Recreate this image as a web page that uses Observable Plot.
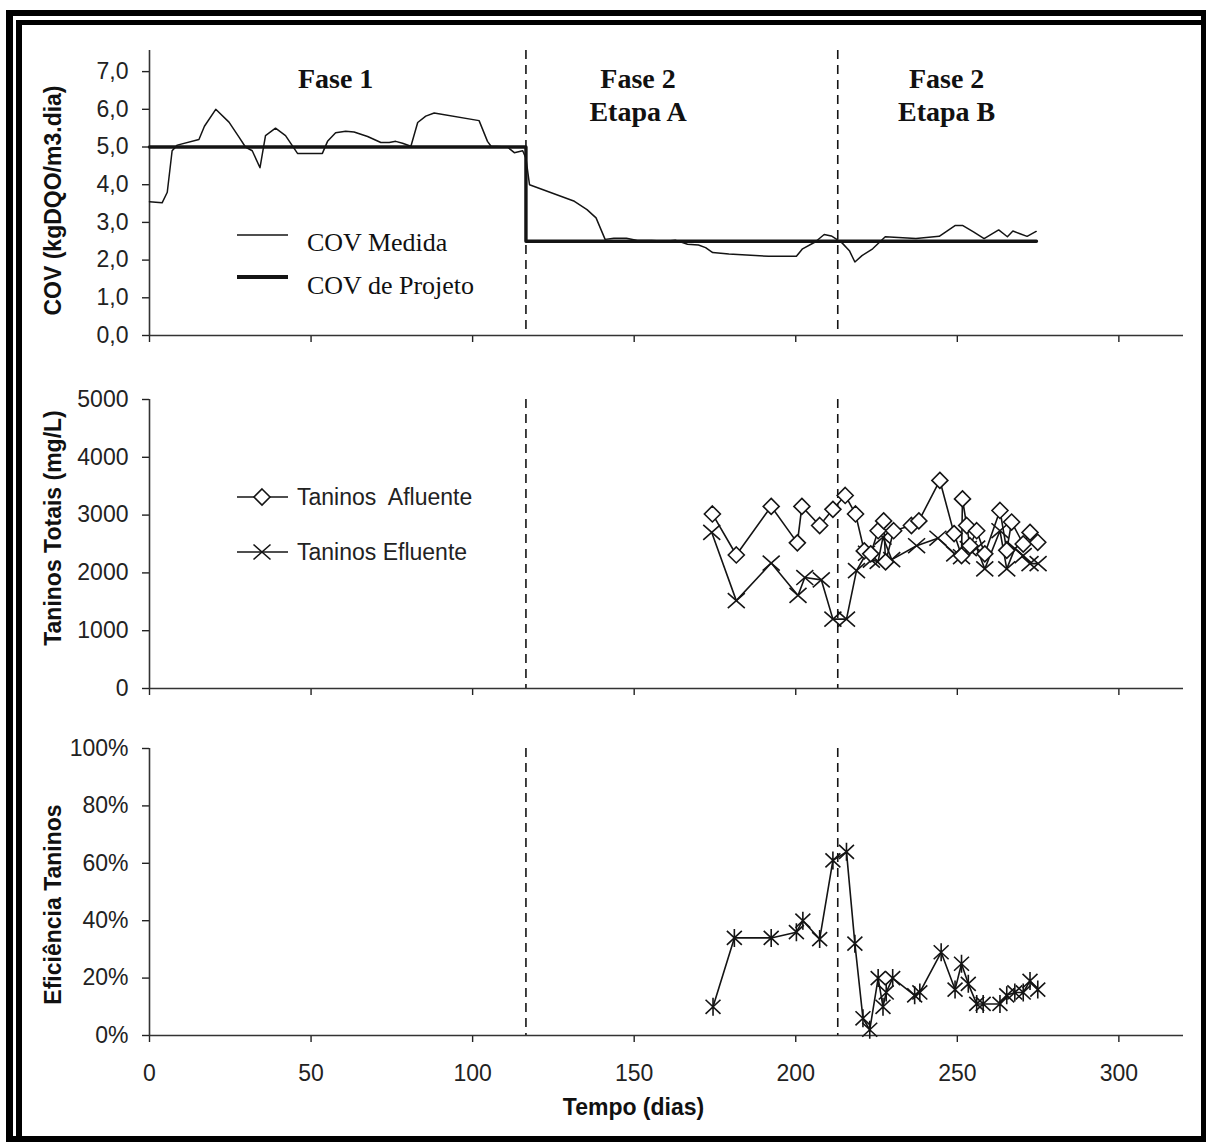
<!DOCTYPE html>
<html><head><meta charset="utf-8">
<script src="https://cdn.jsdelivr.net/npm/d3@7"></script>
<script src="https://cdn.jsdelivr.net/npm/@observablehq/plot@0.6"></script>
<style>
html,body{margin:0;padding:0;background:#fff;overflow:hidden;}
#wrap{position:relative;width:1206px;height:1142px;background:#fff;}
#wrap svg{position:absolute;left:0;}
.frame{position:absolute;box-sizing:border-box;border:0 solid #000;pointer-events:none;z-index:5;}
#wrap svg g[aria-label$="tick"] path{stroke-width:1.4;}
</style></head><body><div id="wrap"></div>
<script>
// ---------- DATA ----------
const xTicks = [0, 50, 100, 150, 200, 250, 300];
const covTicks = [0, 1, 2, 3, 4, 5, 6, 7];
const taninoTicks = [0, 1000, 2000, 3000, 4000, 5000];
const efTicks = [0, 20, 40, 60, 80, 100];

// phase boundaries (days)
const faseLimites = [116.5, 213];

// COV medida (kgDQO/m3.dia)
const covDias = [0, 3.9, 5.5, 7, 8.6, 15.3, 17, 20.5, 24.6, 27.7, 29.7, 31.8, 34.2, 35.9, 39, 42.1, 45.8, 53.5, 55.1, 57.6, 60.7, 63.3, 67.5, 71.6, 74.2, 76.2, 78.3, 80.9, 83, 85.5, 88.1, 102, 104.6, 105.7, 110.8, 112.9, 115.5, 116.5, 117.6, 131.5, 135.4, 138.2, 141, 143.7, 147.6, 151, 155.4, 159.9, 162.7, 166.5, 169.9, 172.1, 174.3, 179.3, 191.6, 200.2, 202.1, 206, 208.8, 211, 212.7, 214.4, 216.6, 218.3, 220.5, 223.8, 227.7, 237.2, 244.4, 249.4, 251.6, 255, 258.3, 262.8, 265.5, 267.2, 269.4, 271.6, 274.4];
const covMedida = [3.55, 3.52, 3.8, 4.9, 5.05, 5.2, 5.55, 6.0, 5.66, 5.26, 5.0, 4.9, 4.45, 5.3, 5.5, 5.3, 4.83, 4.83, 5.15, 5.38, 5.42, 5.4, 5.28, 5.12, 5.12, 5.15, 5.1, 5.02, 5.65, 5.82, 5.9, 5.7, 5.15, 5.02, 5.0, 4.85, 4.9, 4.7, 4.0, 3.56, 3.34, 3.12, 2.55, 2.58, 2.58, 2.52, 2.52, 2.5, 2.53, 2.42, 2.4, 2.33, 2.2, 2.16, 2.1, 2.1, 2.3, 2.48, 2.68, 2.64, 2.55, 2.45, 2.25, 1.95, 2.12, 2.3, 2.62, 2.57, 2.63, 2.92, 2.92, 2.75, 2.57, 2.8, 2.62, 2.77, 2.7, 2.63, 2.76];

// COV de projeto
const projetoDias = [0, 116.5, 116.5, 274.5];
const projetoCov = [5.0, 5.0, 2.5, 2.5];

// Taninos afluente (mg/L)
const aflDias = [174.2, 181.6, 192.4, 200.5, 201.9, 207.4, 211.5, 215.3, 218.5, 221.2, 223.2, 225.5, 227.2, 227.8, 230.3, 235.8, 238.1, 244.6, 249, 251.3, 251.6, 252.9, 253.9, 256, 258.5, 263.2, 265.3, 266.8, 270.4, 272.5, 274.9];
const aflVals = [3020, 2310, 3150, 2520, 3150, 2820, 3100, 3340, 3020, 2380, 2330, 2730, 2900, 2190, 2730, 2820, 2900, 3600, 2680, 2300, 3280, 2820, 2470, 2730, 2330, 3080, 2390, 2880, 2500, 2700, 2530];

// Taninos efluente (mg/L)
const eflDias = [174, 181.6, 192.4, 200.7, 202.8, 207.9, 211.5, 215.7, 218.8, 221.9, 223.4, 225.5, 227, 229.7, 237.4, 244, 249.2, 251.3, 253.4, 256, 258.5, 263.2, 265.3, 267.8, 270.4, 272.5, 275];
const eflVals = [2700, 1520, 2170, 1610, 1920, 1880, 1200, 1200, 2040, 2340, 2220, 2200, 2620, 2230, 2470, 2600, 2330, 2280, 2420, 2430, 2070, 2730, 2070, 2420, 2300, 2160, 2160];

// Eficiência (%)
const efDias = [174.4, 181, 192.4, 200.2, 202.2, 207.4, 211.5, 215.7, 218.3, 220.8, 222.9, 225.5, 227, 228, 230, 236.8, 238.4, 245, 249.3, 251.3, 253.4, 256, 258, 263.2, 265.3, 267.8, 270.4, 272.5, 274.9];
const efVals = [10, 34, 34, 36, 40, 33.6, 61, 64, 32, 6, 2, 20, 10, 15, 20, 14, 15, 29, 16, 25, 18, 11, 11, 11, 14, 15, 15, 19, 16];

// phase labels (annotation positions in data units)
const faseTextos = ["Fase 1", "Fase 2\nEtapa A", "Fase 2\nEtapa B"];
const faseTextoDia = [57.6, 151.2, 246.7];
const faseTextoCov = [6.84, 6.40, 6.40];
const faseTextoAnchor = ["middle", "start", "start"];

// ---------- BUILD ----------
const zipXY = (xs, ys) => xs.map((x, i) => ({x, y: ys[i]}));
const covData = zipXY(covDias, covMedida);
const projData = zipXY(projetoDias, projetoCov);
const aflData = zipXY(aflDias, aflVals);
const eflData = zipXY(eflDias, eflVals);
const efData = zipXY(efDias, efVals);
const faseData = faseTextos.map((t, i) => ({t, x: faseTextoDia[i], y: faseTextoCov[i], a: faseTextoAnchor[i]}));

const INK = "#141414";
const SANS = "'Liberation Sans', Arial, Helvetica, sans-serif";
const SERIF = "'Liberation Serif', 'Times New Roman', serif";

const diamondSym = {draw(ctx, size) { const h = Math.sqrt(size / Math.PI); ctx.moveTo(0, -h); ctx.lineTo(h, 0); ctx.lineTo(0, h); ctx.lineTo(-h, 0); ctx.closePath(); }};
const timesSym = {draw(ctx, size) { const h = Math.sqrt(size / Math.PI); const v = h * 0.88; ctx.moveTo(-h, -v); ctx.lineTo(h, v); ctx.moveTo(-h, v); ctx.lineTo(h, -v); }};
const starSym = {draw(ctx, size) { const h = Math.sqrt(size / Math.PI); const w = h * 0.83; const v = h * 0.78; ctx.moveTo(-w, -v); ctx.lineTo(w, v); ctx.moveTo(-w, v); ctx.lineTo(w, -v); ctx.moveTo(0, -h); ctx.lineTo(0, h); }};

function panel({height, marginTop, marginBottom, y, xLabels, marks, title, titleDy}) {
  return Plot.plot({
    width: 1206, height, marginLeft: 149, marginRight: 23, marginTop, marginBottom,
    style: {fontFamily: SANS, fontSize: "23px", color: "#222", background: "transparent", overflow: "visible"},
    x: {domain: [0, 320], ticks: xTicks, tickSize: 7, tickPadding: 22, tickFormat: xLabels ? (d => String(d)) : (() => ""), label: null},
    y: {...y, tickSize: 7, tickPadding: 14, label: null},
    marks: [
      Plot.ruleX(faseLimites, {stroke: INK, strokeWidth: 1.6, strokeDasharray: "9,6"}),
      Plot.ruleX([0], {stroke: "#333", strokeWidth: 1.6}),
      Plot.ruleY([0], {stroke: "#333", strokeWidth: 1.6}),
      ...marks,
      Plot.text([title], {frameAnchor: "left", dx: -96, dy: titleDy, rotate: -90, text: d => d, textAnchor: "middle", fontWeight: "bold", fontSize: 23, fill: "#111", lineAnchor: "middle"})
    ]
  });
}

const panelCov = panel({
  height: 360, marginTop: 50, marginBottom: 25,
  y: {domain: [0, 7.56], ticks: covTicks, tickFormat: d => d.toFixed(1).replace(".", ",")},
  title: "COV (kgDQO/m3.dia)", titleDy: 7.5,
  marks: [
    Plot.line(projData, {x: "x", y: "y", stroke: INK, strokeWidth: 3.4}),
    Plot.line(covData, {x: "x", y: "y", stroke: INK, strokeWidth: 1.5}),
    Plot.text(faseData, {x: "x", y: "y", text: "t", textAnchor: d => d.a, lineAnchor: "middle", lineHeight: 1.18, fontFamily: SERIF, fontWeight: "bold", fontSize: 28, fill: "#111"})
  ]
});

const panelTan = panel({
  height: 360, marginTop: 39, marginBottom: 32,
  y: {domain: [0, 5000], ticks: taninoTicks, tickFormat: d => String(d)},
  title: "Taninos Totais (mg/L)", titleDy: -16,
  marks: [
    Plot.line(eflData, {x: "x", y: "y", stroke: INK, strokeWidth: 1.6}),
    Plot.dot(eflData, {x: "x", y: "y", symbol: timesSym, r: 8.5, stroke: INK, fill: "none", strokeWidth: 1.6}),
    Plot.line(aflData, {x: "x", y: "y", stroke: INK, strokeWidth: 1.6}),
    Plot.dot(aflData, {x: "x", y: "y", symbol: diamondSym, r: 8, stroke: INK, fill: "white", strokeWidth: 1.6})
  ]
});

const panelEf = panel({
  height: 422, marginTop: 28, marginBottom: 107,
  y: {domain: [0, 100], ticks: efTicks, tickFormat: d => d + "%"},
  xLabels: true,
  title: "Eficiência Taninos", titleDy: 12.5,
  marks: [
    Plot.line(efData, {x: "x", y: "y", stroke: INK, strokeWidth: 1.6}),
    Plot.dot(efData, {x: "x", y: "y", symbol: starSym, r: 9, stroke: INK, fill: "none", strokeWidth: 1.6}),
    Plot.text(["Tempo (dias)"], {frameAnchor: "bottom", dx: -33, dy: 72, text: d => d, textAnchor: "middle", fontWeight: "bold", fontSize: 23, fill: "#111", lineAnchor: "middle"})
  ]
});

const wrap = document.getElementById("wrap");
[[panelCov, 0], [panelTan, 360], [panelEf, 720]].forEach(([svg, t]) => { svg.style.top = t + "px"; svg.style.position = "absolute"; svg.style.left = "0px"; wrap.appendChild(svg); });

// legends (overlay)
const leg = d3.create("svg").attr("width", 1206).attr("height", 1142).style("top", "0px").style("left", "0px").style("position", "absolute").style("pointer-events", "none");
leg.append("line").attr("x1", 237).attr("x2", 288).attr("y1", 235).attr("y2", 235).attr("stroke", INK).attr("stroke-width", 1.5);
leg.append("line").attr("x1", 237).attr("x2", 288).attr("y1", 277).attr("y2", 277).attr("stroke", INK).attr("stroke-width", 4);
leg.append("text").attr("x", 307).attr("y", 241.5).attr("dy", "0.35em").attr("font-family", SERIF).attr("font-size", 26).attr("fill", "#111").text("COV Medida");
leg.append("text").attr("x", 307).attr("y", 285).attr("dy", "0.35em").attr("font-family", SERIF).attr("font-size", 26).attr("fill", "#111").text("COV de Projeto");
// middle legend
leg.append("line").attr("x1", 237).attr("x2", 288).attr("y1", 497).attr("y2", 497).attr("stroke", INK).attr("stroke-width", 1.6);
leg.append("path").attr("d", "M262,489L270,497L262,505L254,497Z").attr("fill", "white").attr("stroke", INK).attr("stroke-width", 1.6);
leg.append("line").attr("x1", 237).attr("x2", 288).attr("y1", 552).attr("y2", 552).attr("stroke", INK).attr("stroke-width", 1.6);
leg.append("path").attr("d", "M253.5,544.5L270.5,559.5M253.5,559.5L270.5,544.5").attr("fill", "none").attr("stroke", INK).attr("stroke-width", 1.6);
leg.append("text").attr("x", 297).attr("y", 497).attr("dy", "0.35em").attr("font-family", SANS).attr("font-size", 23).attr("fill", "#222").style("white-space", "pre").text("Taninos  Afluente");
leg.append("text").attr("x", 297).attr("y", 552).attr("dy", "0.35em").attr("font-family", SANS).attr("font-size", 23).attr("fill", "#222").text("Taninos Efluente");
wrap.appendChild(leg.node());

// double frame
const f1 = document.createElement("div"); f1.className = "frame";
Object.assign(f1.style, {left: "6px", top: "10px", width: "1200px", height: "1132px", borderLeftWidth: "7px", borderTopWidth: "6px", borderRightWidth: "5px", borderBottomWidth: "6px"});
const f2 = document.createElement("div"); f2.className = "frame";
Object.assign(f2.style, {left: "16px", top: "20px", width: "1185px", height: "1116px", borderLeftWidth: "6px", borderTopWidth: "5px"});
wrap.appendChild(f1); wrap.appendChild(f2);
</script></body></html>
